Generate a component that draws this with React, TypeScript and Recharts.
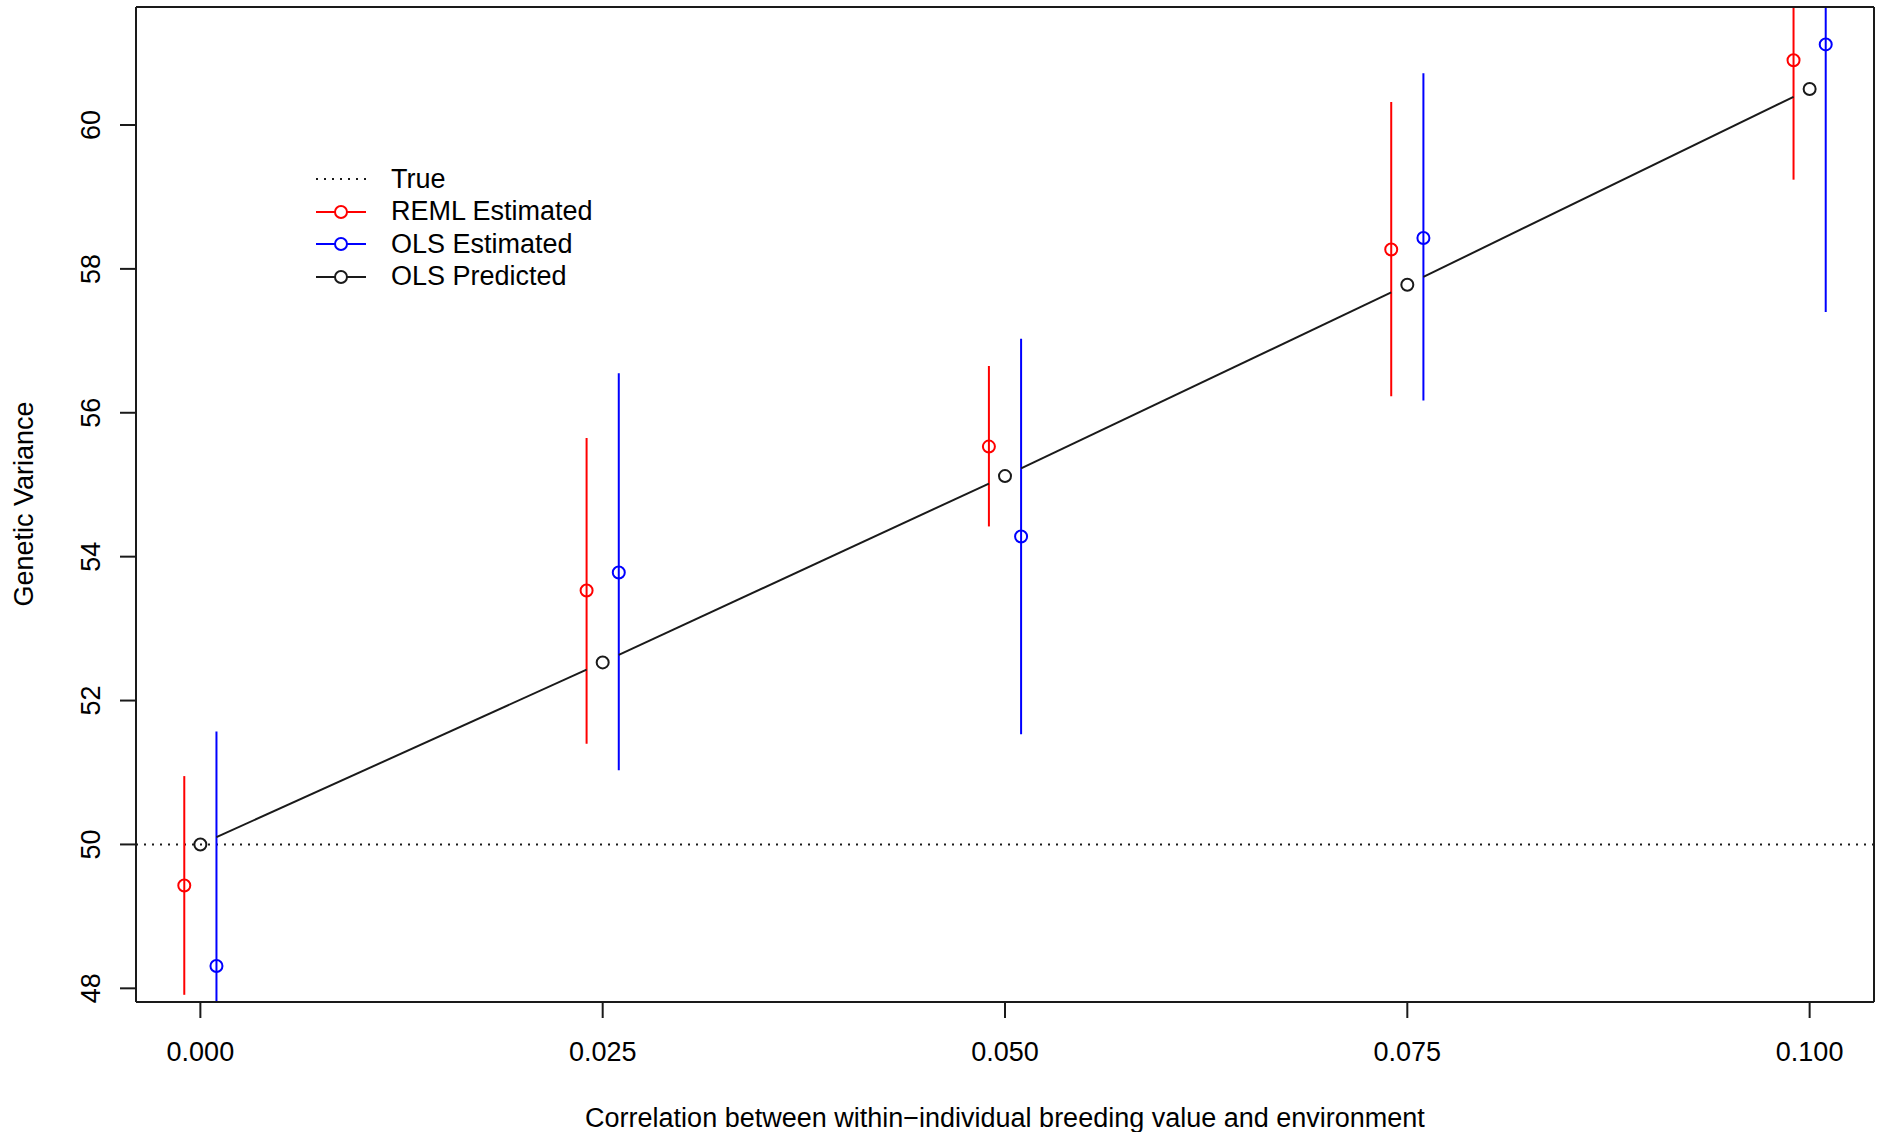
import { ComposedChart, Scatter, Line, XAxis, YAxis, ErrorBar, ReferenceLine, Legend } from "recharts";

// correlation levels and the three estimates at each level
const corrLevels = [0, 0.025, 0.05, 0.075, 0.1];
const dodge = 0.001;

const remlMean = [49.43, 53.53, 55.53, 58.27, 60.9];
const remlLow = [47.91, 51.4, 54.42, 56.23, 59.24];
const remlHigh = [50.95, 55.65, 56.65, 60.32, 62.56];

const olsMean = [48.31, 53.78, 54.28, 58.43, 61.12];
const olsLow = [45.05, 51.03, 51.53, 56.17, 57.4];
const olsHigh = [51.57, 56.55, 57.03, 60.72, 64.84];

const predMean = [50.0, 52.53, 55.12, 57.78, 60.5];
const trueValue = 50;

const xTicks = [0, 0.025, 0.05, 0.075, 0.1];
const yTicks = [48, 50, 52, 54, 56, 58, 60];
const xDomain = [-0.004, 0.104];
const yDomain = [47.81, 61.64];

const FONT = '"Liberation Sans", Arial, Helvetica, sans-serif';
const FS = 27;
const RED = "#ff0000";
const BLUE = "#0000ff";
const INK = "#1a1a1a";

const remlData = corrLevels.map((x, i) => ({
  x: x - dodge,
  y: remlMean[i],
  err: [remlMean[i] - remlLow[i], remlHigh[i] - remlMean[i]],
}));
const olsData = corrLevels.map((x, i) => ({
  x: x + dodge,
  y: olsMean[i],
  err: [olsMean[i] - olsLow[i], olsHigh[i] - olsMean[i]],
}));
const predData = corrLevels.map((x, i) => ({ x, y: predMean[i] }));

const ring = (color: string) => (p: any) => (
  <circle cx={p.cx} cy={p.cy} r={6} fill="none" stroke={color} strokeWidth={2} />
);

// like R's type="b": open point, line to the next point with a gap at both ends
const PredDot = (p: any) => {
  const next = p.points ? p.points[p.index + 1] : null;
  const gap = 0.04;
  return (
    <g key={`pred-${p.index}`}>
      {next && (
        <line
          x1={p.cx + (next.x - p.cx) * gap}
          y1={p.cy + (next.y - p.cy) * gap}
          x2={next.x - (next.x - p.cx) * gap}
          y2={next.y - (next.y - p.cy) * gap}
          stroke={INK}
          strokeWidth={2}
        />
      )}
      <circle cx={p.cx} cy={p.cy} r={6} fill="none" stroke={INK} strokeWidth={2} />
    </g>
  );
};

const legendRows = [
  { label: "True", color: INK, dotted: true },
  { label: "REML Estimated", color: RED },
  { label: "OLS Estimated", color: BLUE },
  { label: "OLS Predicted", color: INK },
];

const LegendBox = () => (
  <div style={{ fontFamily: FONT, fontSize: FS, color: "#000" }}>
    {legendRows.map((r) => (
      <div key={r.label} style={{ display: "flex", alignItems: "center", height: 32.5 }}>
        <svg width={75} height={20} style={{ flex: "none" }}>
          {r.dotted ? (
            <line x1={0} y1={10} x2={50} y2={10} stroke={r.color} strokeWidth={2} strokeDasharray="2 6" />
          ) : (
            <>
              <line x1={0} y1={10} x2={50} y2={10} stroke={r.color} strokeWidth={2} />
              <circle cx={25} cy={10} r={6} fill="#fff" stroke={r.color} strokeWidth={2} />
            </>
          )}
        </svg>
        <span style={{ lineHeight: 1 }}>{r.label}</span>
      </div>
    ))}
  </div>
);

const YTick = (p: any) => (
  <text
    x={p.x}
    y={p.y}
    transform={`rotate(-90, ${p.x}, ${p.y})`}
    textAnchor="middle"
    fontSize={FS}
    fontFamily={FONT}
    fill="#000"
  >
    {p.payload.value}
  </text>
);

const XTick = (p: any) => (
  <text x={p.x} y={p.y} dy={18} textAnchor="middle" fontSize={FS} fontFamily={FONT} fill="#000">
    {Number(p.payload.value).toFixed(3)}
  </text>
);

const YTitle = () => (
  <text
    x={33}
    y={504}
    transform="rotate(-90, 33, 504)"
    textAnchor="middle"
    fontSize={FS}
    fontFamily={FONT}
    fill="#000"
  >
    Genetic Variance
  </text>
);

const XTitle = () => (
  <text x={1005} y={1127} textAnchor="middle" fontSize={FS} fontFamily={FONT} fill="#000">
    Correlation between within−individual breeding value and environment
  </text>
);

export default function App() {
  const axisLine = { stroke: INK, strokeWidth: 2 };
  return (
    <div style={{ position: "absolute", left: 0, top: 0, width: 1881, height: 1132, background: "#fff" }}>
      {/* error bars run past the plot box, R clips them */}
      <svg width={0} height={0} style={{ position: "absolute" }}>
        <defs>
          <clipPath id="plotClip">
            <rect x={136} y={7} width={1738} height={995} />
          </clipPath>
        </defs>
      </svg>
      <style>{`.recharts-errorBars { clip-path: url(#plotClip); }`}</style>
      <ComposedChart width={1881} height={1132} margin={{ top: 6, right: 6, bottom: 0, left: 0 }}>
        <XAxis
          dataKey="x"
          type="number"
          domain={xDomain}
          ticks={xTicks}
          allowDataOverflow
          height={130}
          tickSize={16}
          tickMargin={25}
          tickLine={axisLine}
          axisLine={axisLine}
          tick={XTick}
          label={XTitle}
        />
        <XAxis xAxisId="top" orientation="top" type="number" domain={xDomain} height={1} tick={false} tickLine={false} axisLine={axisLine} />
        <YAxis
          type="number"
          domain={yDomain}
          ticks={yTicks}
          allowDataOverflow
          width={136}
          tickSize={16}
          tickMargin={20}
          tickLine={axisLine}
          axisLine={axisLine}
          tick={YTick}
          label={YTitle}
        />
        <YAxis yAxisId="right" orientation="right" type="number" domain={yDomain} width={1} tick={false} tickLine={false} axisLine={axisLine} />
        <ReferenceLine y={trueValue} stroke={INK} strokeWidth={2} strokeDasharray="2 6" />
        <Scatter name="REML Estimated" data={remlData} dataKey="y" shape={ring(RED)} isAnimationActive={false}>
          <ErrorBar dataKey="err" direction="y" width={0} stroke={RED} strokeWidth={2} />
        </Scatter>
        <Scatter name="OLS Estimated" data={olsData} dataKey="y" shape={ring(BLUE)} isAnimationActive={false}>
          <ErrorBar dataKey="err" direction="y" width={0} stroke={BLUE} strokeWidth={2} />
        </Scatter>
        <Line
          name="OLS Predicted"
          data={predData}
          dataKey="y"
          stroke="none"
          dot={PredDot}
          activeDot={false}
          isAnimationActive={false}
        />
        <Legend
          layout="vertical"
          verticalAlign="middle"
          align="center"
          content={LegendBox}
          wrapperStyle={{ position: "absolute", left: 316, top: 163, width: "auto" }}
        />
      </ComposedChart>
    </div>
  );
}
